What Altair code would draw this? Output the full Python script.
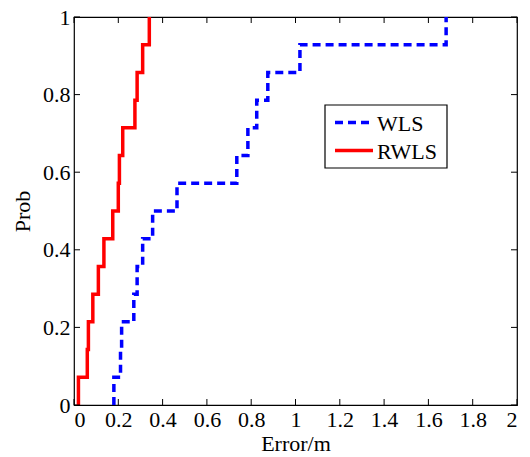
import altair as alt
import pandas as pd

# Sorted error samples (m) read from the empirical CDF steps
wls_err = [0.18, 0.21, 0.215, 0.27, 0.285, 0.31, 0.355, 0.465, 0.735, 0.785, 0.825, 0.875, 1.02, 1.68]
rwls_err = [0.02, 0.06, 0.065, 0.085, 0.11, 0.135, 0.175, 0.20, 0.205, 0.22, 0.275, 0.285, 0.31, 0.34]
series_names = ["WLS", "RWLS"]
series_colors = ["#0000ff", "#ff0000"]
series_dash = [[8, 5], [1, 0]]
x_ticks = [0, 0.2, 0.4, 0.6, 0.8, 1.0, 1.2, 1.4, 1.6, 1.8, 2.0]
y_ticks = [0, 0.2, 0.4, 0.6, 0.8, 1.0]

rows = []
for name, errs in zip(series_names, [wls_err, rwls_err]):
    n = len(errs)
    k = 0
    for i, e in enumerate(sorted(errs)):
        rows.append({"series": name, "err": e, "prob": i / n, "o": k}); k += 1
        rows.append({"series": name, "err": e, "prob": (i + 1) / n, "o": k}); k += 1
df = pd.DataFrame(rows)

W, H = 443, 388
FONT = "Liberation Serif"
xs = alt.Scale(domain=[0, 2], nice=False, zero=False)
ys = alt.Scale(domain=[0, 1], nice=False, zero=False)

lines = alt.Chart(df).mark_line(strokeWidth=3.5).encode(
    x=alt.X("err:Q", scale=xs, title="Error/m",
            axis=alt.Axis(values=x_ticks, format="~g", ticks=False, domain=False, grid=False,
                          labelPadding=4, titlePadding=3)),
    y=alt.Y("prob:Q", scale=ys, title="Prob",
            axis=alt.Axis(values=y_ticks, format="~g", ticks=False, domain=False, grid=False,
                          labelPadding=4, titlePadding=8)),
    color=alt.Color("series:N", scale=alt.Scale(domain=series_names, range=series_colors), legend=None),
    strokeDash=alt.StrokeDash("series:N", scale=alt.Scale(domain=series_names, range=series_dash), legend=None),
    order="o:Q",
    detail="series:N",
)

xt = pd.DataFrame({"err": x_ticks})
yt = pd.DataFrame({"prob": y_ticks})
L = 6
bottom = alt.Chart(xt).mark_rule(color="black", strokeWidth=1).encode(
    x=alt.X("err:Q", scale=xs), y=alt.value(H), y2=alt.value(H - L))
top = alt.Chart(xt).mark_rule(color="black", strokeWidth=1).encode(
    x=alt.X("err:Q", scale=xs), y=alt.value(0), y2=alt.value(L))
left = alt.Chart(yt).mark_rule(color="black", strokeWidth=1).encode(
    y=alt.Y("prob:Q", scale=ys), x=alt.value(0), x2=alt.value(L))
right = alt.Chart(yt).mark_rule(color="black", strokeWidth=1).encode(
    y=alt.Y("prob:Q", scale=ys), x=alt.value(W), x2=alt.value(W - L))

# Manual legend (MATLAB-style box)
leg_df = pd.DataFrame({"series": series_names})
box = alt.Chart(leg_df.head(1)).mark_rect(fill="white", stroke="black", strokeWidth=1.2).encode(
    x=alt.value(251), x2=alt.value(373), y=alt.value(88), y2=alt.value(151))
leg_layers = [box]
for i, (name, col, dash) in enumerate(zip(series_names, series_colors, series_dash)):
    yy = 105.5 + 28 * i
    sub = leg_df[leg_df.series == name]
    leg_layers.append(alt.Chart(sub).mark_rule(color=col, strokeWidth=3.5, strokeDash=dash).encode(
        x=alt.value(261), x2=alt.value(299), y=alt.value(yy)))
    leg_layers.append(alt.Chart(sub).mark_text(align="left", baseline="middle", font=FONT, fontSize=22,
                                               color="black").encode(
        x=alt.value(303), y=alt.value(yy + 1), text="series:N"))

chart = alt.layer(lines, bottom, top, left, right, *leg_layers).properties(
    width=W, height=H,
    autosize=alt.AutoSizeParams(type="none"),
    padding={"left": 74, "top": 17, "right": 13, "bottom": 52},
    background="white",
).configure_view(stroke="black", strokeWidth=1.2).configure_axis(
    labelFont=FONT, labelFontSize=22, labelColor="black",
    titleFont=FONT, titleFontSize=22, titleColor="black", titleFontWeight="normal",
)

chart.save("out.html", embed_options={"renderer": "svg", "actions": False})
